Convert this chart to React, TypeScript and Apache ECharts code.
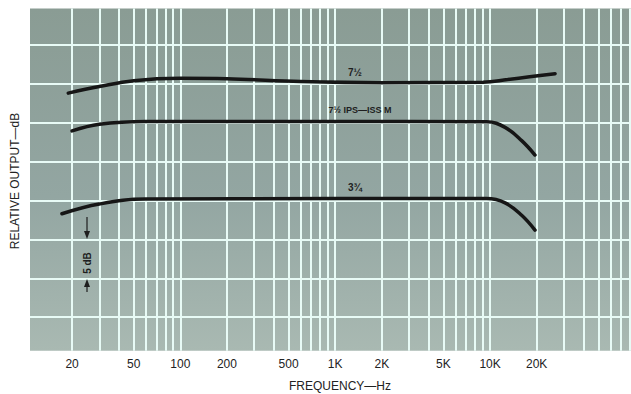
import React, { useEffect, useRef } from "react";
import * as echarts from "echarts";

// ---- data ----
const gridFreqs = [
  20, 30, 40, 50, 60, 70, 80, 90,
  100, 200, 300, 400, 500, 600, 700, 800, 900,
  1000, 2000, 3000, 4000, 5000, 6000, 7000, 8000, 9000,
  10000, 20000, 30000, 40000, 50000, 60000, 70000, 80000,
];
const gridDb = [-25, -20, -15, -10, -5, 0, 5, 10];
const tickFreqs = [20, 50, 100, 200, 500, 1000, 2000, 5000, 10000, 20000];
const tickTexts = ["20", "50", "100", "200", "500", "1K", "2K", "5K", "10K", "20K"];

const topFreq = [18.9, 30, 50, 100, 200, 600, 2000, 9000, 13000, 18000, 26300];
const topDb = [3.8, 4.65, 5.4, 5.7, 5.65, 5.3, 5.15, 5.2, 5.55, 5.9, 6.3];

const midFreq = [20, 30, 60, 1000, 9500, 12500, 16000, 19500];
const midDb = [-1.05, -0.2, 0.15, 0.15, 0.12, -0.6, -2.3, -4.15];

const botFreq = [17.2, 30, 60, 1000, 9500, 12500, 16000, 19500];
const botDb = [-11.7, -10.45, -9.8, -9.75, -9.75, -10.3, -11.9, -13.8];

const FONT = "Liberation Sans, Arial, sans-serif";

function pairs(f: number[], d: number[]) {
  return f.map((v, i) => [v, d[i]]);
}

export default function App() {
  const ref = useRef<HTMLDivElement>(null);
  useEffect(() => {
    if (!ref.current) return;
    const chart = echarts.init(ref.current, undefined, { renderer: "svg" });
    const gridColor = "#e8fbf6";
    const curveStyle = { color: "#161616", width: 3.5, cap: "round" as const };
    const vLines = gridFreqs.map((f) => {
      const idx = tickFreqs.indexOf(f);
      return {
        xAxis: f,
        label:
          idx >= 0
            ? {
                show: true,
                position: "start" as const,
                formatter: tickTexts[idx],
                color: "#222",
                fontSize: 12,
                fontFamily: FONT,
                distance: 7,
              }
            : { show: false },
      };
    });
    const hLines = gridDb.map((d) => ({ yAxis: d, label: { show: false } }));
    const curve = (f: number[], d: number[]) => ({
      type: "line",
      z: 5,
      smooth: 0.4,
      showSymbol: false,
      silent: true,
      lineStyle: curveStyle,
      data: pairs(f, d),
    });
    chart.setOption({
      animation: false,
      grid: {
        left: 30,
        right: 0,
        top: 8.5,
        bottom: 43.3,
        show: true,
        borderWidth: 0,
        backgroundColor: new echarts.graphic.LinearGradient(0, 0, 0, 1, [
          { offset: 0, color: "#8a9c94" },
          { offset: 0.55, color: "#93a6a2" },
          { offset: 1, color: "#a9b9b2" },
        ]),
      },
      xAxis: { type: "log", min: 10.7, max: 81300, show: false },
      yAxis: { type: "value", min: -29.3, max: 14.68, show: false },
      series: [
        {
          type: "line",
          data: [],
          z: 1,
          silent: true,
          markLine: {
            silent: true,
            symbol: ["none", "none"],
            animation: false,
            lineStyle: { color: gridColor, width: 2, type: "solid" },
            emphasis: { disabled: true },
            data: [...vLines, ...hLines],
          },
        },
        curve(topFreq, topDb),
        curve(midFreq, midDb),
        curve(botFreq, botDb),
      ],
      graphic: [
        {
          type: "text",
          x: 15,
          y: 181,
          rotation: Math.PI / 2,
          style: {
            text: "RELATIVE OUTPUT—dB",
            fill: "#222",
            font: `12px ${FONT}`,
            align: "center",
            verticalAlign: "middle",
          },
        },
        {
          type: "text",
          x: 340,
          y: 386,
          style: {
            text: "FREQUENCY—Hz",
            fill: "#222",
            font: `12px ${FONT}`,
            align: "center",
            verticalAlign: "middle",
          },
        },
        {
          type: "text",
          x: 355,
          y: 72,
          z: 10,
          style: { text: "7½", fill: "#1e1e1e", font: `bold 10px ${FONT}`, align: "center", verticalAlign: "middle" },
        },
        {
          type: "text",
          x: 360,
          y: 110,
          z: 10,
          style: { text: "7½ IPS—ISS M", fill: "#1e1e1e", font: `bold 9px ${FONT}`, align: "center", verticalAlign: "middle" },
        },
        {
          type: "text",
          x: 355,
          y: 187,
          z: 10,
          style: { text: "3¾", fill: "#1e1e1e", font: `bold 10px ${FONT}`, align: "center", verticalAlign: "middle" },
        },
        // 5 dB marker
        {
          type: "line",
          z: 10,
          shape: { x1: 87, y1: 217, x2: 87, y2: 233 },
          style: { stroke: "#1e1e1e", lineWidth: 1.2 },
        },
        {
          type: "polygon",
          z: 10,
          shape: { points: [[84, 231], [90, 231], [87, 239]] },
          style: { fill: "#1e1e1e" },
        },
        {
          type: "text",
          x: 87,
          y: 263,
          z: 10,
          rotation: Math.PI / 2,
          style: { text: "5 dB", fill: "#1e1e1e", font: `bold 10px ${FONT}`, align: "center", verticalAlign: "middle" },
        },
        {
          type: "polygon",
          z: 10,
          shape: { points: [[84, 287], [90, 287], [87, 279]] },
          style: { fill: "#1e1e1e" },
        },
        {
          type: "line",
          z: 10,
          shape: { x1: 87, y1: 286, x2: 87, y2: 292 },
          style: { stroke: "#1e1e1e", lineWidth: 1.2 },
        },
      ],
    });
    return () => chart.dispose();
  }, []);
  return (
    <div
      ref={ref}
      style={{ position: "fixed", left: 0, top: 0, width: 631, height: 394, background: "#ffffff" }}
    />
  );
}
